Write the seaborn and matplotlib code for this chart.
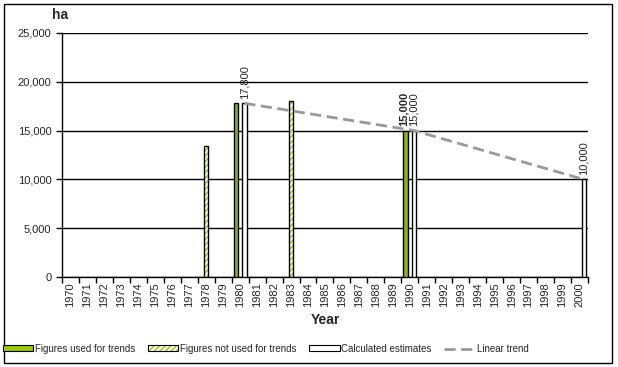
import pandas as pd
import seaborn as sns
import matplotlib.pyplot as plt
from matplotlib.patches import Patch, Rectangle
from matplotlib.lines import Line2D
from matplotlib.colors import to_rgba
from matplotlib.ticker import FuncFormatter

years = list(range(1970, 2001))
used_years = [1980, 1990]
used_vals = [17800, 15000]
notused_years = [1978, 1983]
notused_vals = [13400, 18000]
calc_years = [1980, 1990, 2000]
calc_vals = [17800, 15000, 10000]

series = ['Figures used for trends', 'Figures not used for trends', 'Calculated estimates']
green = '#99CC00'

df = pd.concat([
    pd.DataFrame({'Year': used_years, 'ha': used_vals, 'Series': series[0]}),
    pd.DataFrame({'Year': notused_years, 'ha': notused_vals, 'Series': series[1]}),
    pd.DataFrame({'Year': calc_years, 'ha': calc_vals, 'Series': series[2]}),
])

sns.set_style('white')
plt.rcParams['font.family'] = ['Liberation Sans', 'DejaVu Sans']

fig = plt.figure(figsize=(6.18, 3.67), dpi=100)
ax = fig.add_axes([0.1003, 0.2452, 0.8511, 0.665])

sns.barplot(x='Year', y='ha', hue='Series', data=df, order=years, hue_order=series,
            palette=[green, 'white', 'white'], width=0.75, edgecolor='black',
            linewidth=1, legend=False, ax=ax, zorder=3)

# style the "not used" bars with green hatching
for p in ax.containers[1]:
    p.set_hatch('//////')
    p._hatch_color = to_rgba(green)

# trend line through the calculated estimates
calc_bars = list(ax.containers[2])
xs = [p.get_x() + p.get_width() / 2 for p in calc_bars]
ax.plot(xs, calc_vals, color='#999999', lw=2, dashes=(4, 2), zorder=4)

# value labels
for p, v in zip(calc_bars, calc_vals):
    ax.annotate(f'{v:,}', (p.get_x() + p.get_width() / 2, v), xytext=(0, 3),
                textcoords='offset points', rotation=90, ha='center', va='bottom', fontsize=8)
used_bar = list(ax.containers[0])[1]
ax.annotate(f'{used_vals[1]:,}', (used_bar.get_x() + used_bar.get_width() / 2, used_vals[1]),
            xytext=(-1, 3), textcoords='offset points', rotation=90, ha='center', va='bottom',
            fontsize=8, fontweight='bold')

ax.set_ylim(0, 25000)
ax.set_xlim(-0.5, len(years) - 0.5)
ax.set_yticks(range(0, 25001, 5000))
ax.yaxis.set_major_formatter(FuncFormatter(lambda v, pos: f'{int(v):,}'))
ax.yaxis.grid(True, color='black', lw=1)
ax.set_axisbelow(True)

ax.set_xticks(range(len(years)))
ax.set_xticklabels([str(y) for y in years], rotation=90, fontsize=8)
ax.set_xticks([i - 0.5 for i in range(len(years) + 1)], minor=True)
ax.tick_params(axis='x', which='major', length=0, pad=4)
ax.tick_params(axis='x', which='minor', length=4, width=1, color='black', direction='out', bottom=True)
ax.tick_params(axis='y', length=4, width=1, color='black', direction='out', left=True, labelsize=8)

for s in ['top', 'right']:
    ax.spines[s].set_visible(False)
for s in ['left', 'bottom']:
    ax.spines[s].set_color('black')
    ax.spines[s].set_linewidth(1)

ax.set_xlabel('Year', fontsize=10, fontweight='bold', labelpad=4)
ax.set_ylabel('')
fig.text(0.097, 0.94, 'ha', fontsize=10, fontweight='bold', ha='center', va='bottom')

hatch_patch = Patch(facecolor='white', edgecolor='black', hatch='//////', lw=0.8)
hatch_patch._hatch_color = to_rgba(green)
handles = [
    Patch(facecolor=green, edgecolor='black', lw=0.8),
    hatch_patch,
    Patch(facecolor='white', edgecolor='black', lw=0.8),
    Line2D([], [], color='#999999', lw=2, dashes=(4, 2)),
]
fig.legend(handles, ['Figures used for trends', 'Figures not used for trends',
                     'Calculated estimates', 'Linear trend'],
           loc='center', bbox_to_anchor=(0.43, 0.05), ncol=4, frameon=False,
           fontsize=7, handlelength=3.1, handleheight=0.5, handletextpad=0.2, columnspacing=1.3)

fig.add_artist(Rectangle((0.006, 0.01), 0.985, 0.98, transform=fig.transFigure,
                         fill=False, edgecolor='black', lw=1))

fig.savefig('out.png', dpi=100)
